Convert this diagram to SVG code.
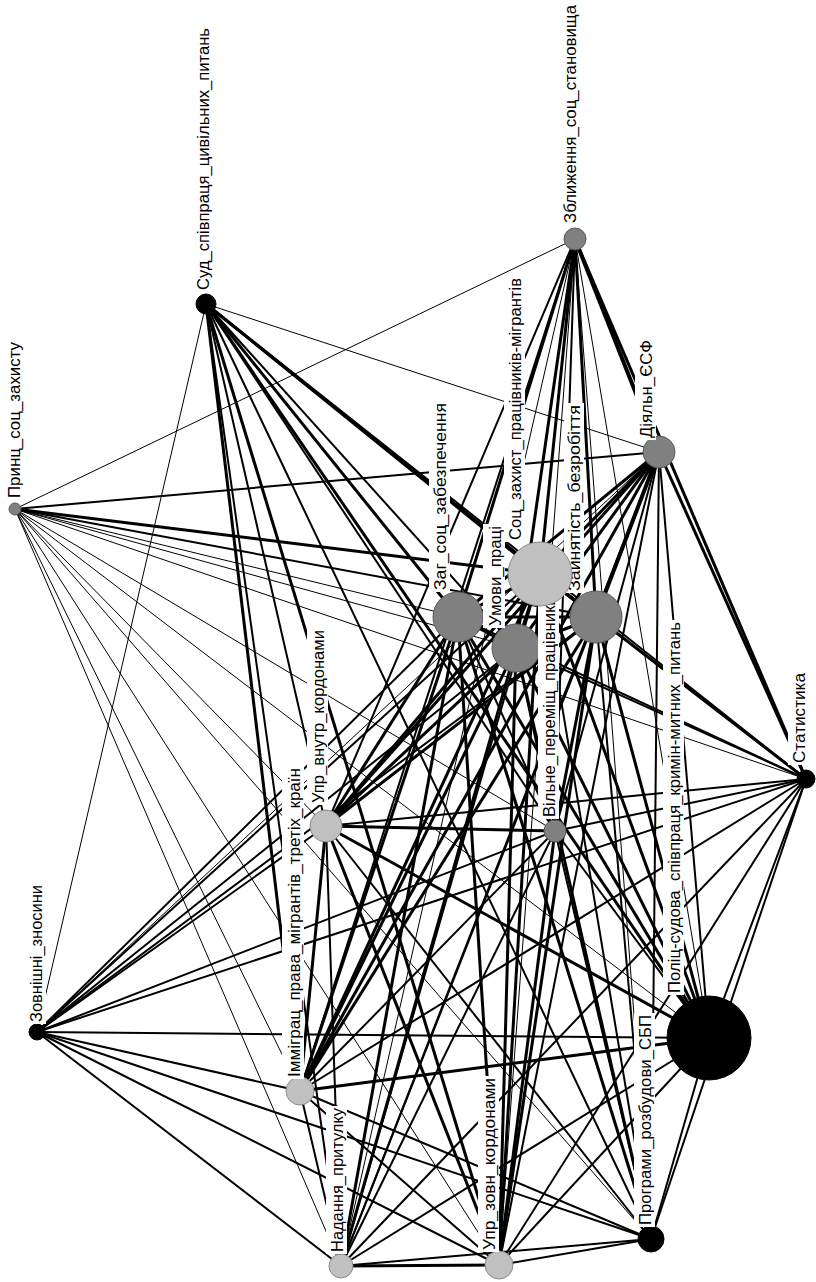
<svg xmlns="http://www.w3.org/2000/svg" width="816" height="1282" viewBox="0 0 816 1282">
<style>
.e line{stroke:#000;fill:none}
.w1{stroke-width:1}
.w2{stroke-width:2}
.w3{stroke-width:3}
.w4{stroke-width:4}
.blk{fill:#000;stroke:#000;stroke-width:1}
.gry{fill:#808080;stroke:#5a5a5a;stroke-width:1}
.lgt{fill:#c0c0c0;stroke:#8a8a8a;stroke-width:1}
.lb rect{fill:#fff}
.lb text{font-family:"Liberation Sans",Arial,sans-serif;font-size:16.5px;fill:#000}
</style>
<rect width="816" height="1282" fill="#fff"/>
<g id="connectors" class="e">
<line class="w1" x1="206" y1="304" x2="659" y2="452"/>
<line class="w1" x1="206" y1="304" x2="37" y2="1032"/>
<line class="w3" x1="206" y1="304" x2="458" y2="617"/>
<line class="w3" x1="206" y1="304" x2="540" y2="574"/>
<line class="w2" x1="206" y1="304" x2="516" y2="648"/>
<line class="w3" x1="206" y1="304" x2="596" y2="617"/>
<line class="w2" x1="206" y1="304" x2="555" y2="831"/>
<line class="w2" x1="206" y1="304" x2="806" y2="779"/>
<line class="w3" x1="206" y1="304" x2="709" y2="1038"/>
<line class="w2" x1="206" y1="304" x2="651" y2="1239"/>
<line class="w3" x1="206" y1="304" x2="499" y2="1265"/>
<line class="w2" x1="206" y1="304" x2="341" y2="1266"/>
<line class="w3" x1="206" y1="304" x2="300" y2="1091"/>
<line class="w2" x1="206" y1="304" x2="326" y2="826"/>
<line class="w1" x1="15" y1="509" x2="575" y2="239"/>
<line class="w2" x1="15" y1="509" x2="659" y2="452"/>
<line class="w1" x1="15" y1="509" x2="458" y2="617"/>
<line class="w3" x1="15" y1="509" x2="540" y2="574"/>
<line class="w1" x1="15" y1="509" x2="516" y2="648"/>
<line class="w2" x1="15" y1="509" x2="596" y2="617"/>
<line class="w1" x1="15" y1="509" x2="555" y2="831"/>
<line class="w1" x1="15" y1="509" x2="806" y2="779"/>
<line class="w1" x1="15" y1="509" x2="709" y2="1038"/>
<line class="w1" x1="15" y1="509" x2="651" y2="1239"/>
<line class="w1" x1="15" y1="509" x2="499" y2="1265"/>
<line class="w1" x1="15" y1="509" x2="341" y2="1266"/>
<line class="w1" x1="15" y1="509" x2="300" y2="1091"/>
<line class="w1" x1="15" y1="509" x2="326" y2="826"/>
<line class="w4" x1="575" y1="239" x2="659" y2="452"/>
<line class="w3" x1="575" y1="239" x2="458" y2="617"/>
<line class="w3" x1="575" y1="239" x2="540" y2="574"/>
<line class="w3" x1="575" y1="239" x2="516" y2="648"/>
<line class="w3" x1="575" y1="239" x2="596" y2="617"/>
<line class="w2" x1="575" y1="239" x2="555" y2="831"/>
<line class="w3" x1="575" y1="239" x2="806" y2="779"/>
<line class="w1" x1="575" y1="239" x2="709" y2="1038"/>
<line class="w1" x1="575" y1="239" x2="651" y2="1239"/>
<line class="w1" x1="575" y1="239" x2="499" y2="1265"/>
<line class="w1" x1="575" y1="239" x2="341" y2="1266"/>
<line class="w2" x1="575" y1="239" x2="300" y2="1091"/>
<line class="w2" x1="575" y1="239" x2="326" y2="826"/>
<line class="w3" x1="659" y1="452" x2="458" y2="617"/>
<line class="w3" x1="659" y1="452" x2="540" y2="574"/>
<line class="w3" x1="659" y1="452" x2="516" y2="648"/>
<line class="w4" x1="659" y1="452" x2="596" y2="617"/>
<line class="w2" x1="659" y1="452" x2="555" y2="831"/>
<line class="w3" x1="659" y1="452" x2="806" y2="779"/>
<line class="w2" x1="659" y1="452" x2="709" y2="1038"/>
<line class="w2" x1="659" y1="452" x2="651" y2="1239"/>
<line class="w2" x1="659" y1="452" x2="499" y2="1265"/>
<line class="w2" x1="659" y1="452" x2="341" y2="1266"/>
<line class="w3" x1="659" y1="452" x2="300" y2="1091"/>
<line class="w3" x1="659" y1="452" x2="326" y2="826"/>
<line class="w1" x1="659" y1="452" x2="37" y2="1032"/>
<line class="w3" x1="458" y1="617" x2="540" y2="574"/>
<line class="w3" x1="458" y1="617" x2="516" y2="648"/>
<line class="w3" x1="458" y1="617" x2="596" y2="617"/>
<line class="w2" x1="458" y1="617" x2="555" y2="831"/>
<line class="w2" x1="458" y1="617" x2="806" y2="779"/>
<line class="w3" x1="458" y1="617" x2="709" y2="1038"/>
<line class="w3" x1="458" y1="617" x2="651" y2="1239"/>
<line class="w3" x1="458" y1="617" x2="499" y2="1265"/>
<line class="w3" x1="458" y1="617" x2="341" y2="1266"/>
<line class="w3" x1="458" y1="617" x2="300" y2="1091"/>
<line class="w3" x1="458" y1="617" x2="326" y2="826"/>
<line class="w2" x1="458" y1="617" x2="37" y2="1032"/>
<line class="w3" x1="540" y1="574" x2="516" y2="648"/>
<line class="w3" x1="540" y1="574" x2="596" y2="617"/>
<line class="w3" x1="540" y1="574" x2="555" y2="831"/>
<line class="w2" x1="540" y1="574" x2="806" y2="779"/>
<line class="w3" x1="540" y1="574" x2="709" y2="1038"/>
<line class="w2" x1="540" y1="574" x2="651" y2="1239"/>
<line class="w3" x1="540" y1="574" x2="499" y2="1265"/>
<line class="w2" x1="540" y1="574" x2="341" y2="1266"/>
<line class="w3" x1="540" y1="574" x2="300" y2="1091"/>
<line class="w3" x1="540" y1="574" x2="326" y2="826"/>
<line class="w2" x1="540" y1="574" x2="37" y2="1032"/>
<line class="w3" x1="516" y1="648" x2="596" y2="617"/>
<line class="w2" x1="516" y1="648" x2="555" y2="831"/>
<line class="w2" x1="516" y1="648" x2="806" y2="779"/>
<line class="w3" x1="516" y1="648" x2="709" y2="1038"/>
<line class="w3" x1="516" y1="648" x2="651" y2="1239"/>
<line class="w3" x1="516" y1="648" x2="499" y2="1265"/>
<line class="w3" x1="516" y1="648" x2="341" y2="1266"/>
<line class="w3" x1="516" y1="648" x2="300" y2="1091"/>
<line class="w3" x1="516" y1="648" x2="326" y2="826"/>
<line class="w2" x1="516" y1="648" x2="37" y2="1032"/>
<line class="w3" x1="596" y1="617" x2="555" y2="831"/>
<line class="w3" x1="596" y1="617" x2="806" y2="779"/>
<line class="w3" x1="596" y1="617" x2="709" y2="1038"/>
<line class="w2" x1="596" y1="617" x2="651" y2="1239"/>
<line class="w3" x1="596" y1="617" x2="499" y2="1265"/>
<line class="w2" x1="596" y1="617" x2="341" y2="1266"/>
<line class="w3" x1="596" y1="617" x2="300" y2="1091"/>
<line class="w3" x1="596" y1="617" x2="326" y2="826"/>
<line class="w2" x1="596" y1="617" x2="37" y2="1032"/>
<line class="w2" x1="555" y1="831" x2="806" y2="779"/>
<line class="w2" x1="555" y1="831" x2="709" y2="1038"/>
<line class="w2" x1="555" y1="831" x2="651" y2="1239"/>
<line class="w3" x1="555" y1="831" x2="499" y2="1265"/>
<line class="w2" x1="555" y1="831" x2="341" y2="1266"/>
<line class="w2" x1="555" y1="831" x2="300" y2="1091"/>
<line class="w3" x1="555" y1="831" x2="326" y2="826"/>
<line class="w2" x1="555" y1="831" x2="37" y2="1032"/>
<line class="w2" x1="806" y1="779" x2="709" y2="1038"/>
<line class="w2" x1="806" y1="779" x2="651" y2="1239"/>
<line class="w2" x1="806" y1="779" x2="499" y2="1265"/>
<line class="w2" x1="806" y1="779" x2="341" y2="1266"/>
<line class="w2" x1="806" y1="779" x2="300" y2="1091"/>
<line class="w2" x1="806" y1="779" x2="326" y2="826"/>
<line class="w2" x1="806" y1="779" x2="37" y2="1032"/>
<line class="w2" x1="709" y1="1038" x2="651" y2="1239"/>
<line class="w2" x1="709" y1="1038" x2="499" y2="1265"/>
<line class="w2" x1="709" y1="1038" x2="341" y2="1266"/>
<line class="w3" x1="709" y1="1038" x2="300" y2="1091"/>
<line class="w3" x1="709" y1="1038" x2="326" y2="826"/>
<line class="w2" x1="709" y1="1038" x2="37" y2="1032"/>
<line class="w2" x1="651" y1="1239" x2="499" y2="1265"/>
<line class="w2" x1="651" y1="1239" x2="341" y2="1266"/>
<line class="w2" x1="651" y1="1239" x2="300" y2="1091"/>
<line class="w2" x1="651" y1="1239" x2="326" y2="826"/>
<line class="w2" x1="651" y1="1239" x2="37" y2="1032"/>
<line class="w3" x1="499" y1="1265" x2="341" y2="1266"/>
<line class="w2" x1="499" y1="1265" x2="300" y2="1091"/>
<line class="w3" x1="499" y1="1265" x2="326" y2="826"/>
<line class="w2" x1="499" y1="1265" x2="37" y2="1032"/>
<line class="w2" x1="341" y1="1266" x2="300" y2="1091"/>
<line class="w2" x1="341" y1="1266" x2="326" y2="826"/>
<line class="w2" x1="341" y1="1266" x2="37" y2="1032"/>
<line class="w3" x1="300" y1="1091" x2="326" y2="826"/>
<line class="w2" x1="300" y1="1091" x2="37" y2="1032"/>
<line class="w2" x1="326" y1="826" x2="37" y2="1032"/>
</g>
<g id="node-sud" class="lb">
<circle class="blk" cx="206" cy="304" r="10"/>
<g transform="translate(209,290) rotate(-90)"><rect x="-2" y="-17" width="266" height="21"/><text textLength="262" lengthAdjust="spacingAndGlyphs">Суд_співпраця_цивільних_питань</text></g>
</g>
<g id="node-prynts" class="lb">
<circle class="gry" cx="15" cy="509" r="6"/>
<g transform="translate(20,498) rotate(-90)"><rect x="-2" y="-17" width="160" height="21"/><text textLength="156" lengthAdjust="spacingAndGlyphs">Принц_соц_захисту</text></g>
</g>
<g id="node-zblyzhennia" class="lb">
<circle class="gry" cx="575" cy="239" r="11"/>
<g transform="translate(576,223) rotate(-90)"><rect x="-2" y="-17" width="222" height="21"/><text textLength="218" lengthAdjust="spacingAndGlyphs">Зближення_соц_становища</text></g>
</g>
<g id="node-diialn" class="lb">
<circle class="gry" cx="659" cy="452" r="16"/>
<g transform="translate(652,438) rotate(-90)"><rect x="-2" y="-17" width="102" height="21"/><text textLength="98" lengthAdjust="spacingAndGlyphs">Діяльн_ЄСФ</text></g>
</g>
<g id="node-zah" class="lb">
<circle class="gry" cx="458" cy="617" r="25"/>
<g transform="translate(446,590) rotate(-90)"><rect x="-2" y="-17" width="191" height="21"/><text textLength="187" lengthAdjust="spacingAndGlyphs">Заг_соц_забезпечення</text></g>
</g>
<g id="node-umovy" class="lb">
<circle class="gry" cx="516" cy="648" r="24"/>
<g transform="translate(501,626) rotate(-90)"><rect x="-2" y="-18" width="104" height="22"/><text textLength="100" lengthAdjust="spacingAndGlyphs">Умови_праці</text></g>
</g>
<g id="node-zainiatist" class="lb">
<circle class="gry" cx="596" cy="617" r="26"/>
<g transform="translate(580,591) rotate(-90)"><rect x="-2" y="-16" width="190" height="20"/><text textLength="186" lengthAdjust="spacingAndGlyphs">Зайнятість_безробіття</text></g>
</g>
<g id="node-vilne" class="lb">
<circle class="gry" cx="555" cy="831" r="11"/>
<g transform="translate(555,817) rotate(-90)"><rect x="-2" y="-17" width="228" height="21"/><text textLength="224" lengthAdjust="spacingAndGlyphs">Вільне_переміщ_працівників</text></g>
</g>
<g id="node-sotszakhyst" class="lb">
<circle class="lgt" cx="540" cy="574" r="32"/>
<g transform="translate(521,540) rotate(-90)"><rect x="-2" y="-17" width="266" height="21"/><text textLength="262" lengthAdjust="spacingAndGlyphs">Соц_захист_працівників-мігрантів</text></g>
</g>
<g id="node-statystyka" class="lb">
<circle class="blk" cx="806" cy="779" r="9"/>
<g transform="translate(805,763) rotate(-90)"><rect x="-2" y="-17" width="94" height="21"/><text textLength="90" lengthAdjust="spacingAndGlyphs">Статистика</text></g>
</g>
<g id="node-polits" class="lb">
<circle class="blk" cx="709" cy="1038" r="42"/>
<g transform="translate(680,993) rotate(-90)"><rect x="-2" y="-17" width="375" height="21"/><text textLength="371" lengthAdjust="spacingAndGlyphs">Поліц-судова_співпраця_кримін-митних_питань</text></g>
</g>
<g id="node-prohramy" class="lb">
<circle class="blk" cx="651" cy="1239" r="13"/>
<g transform="translate(651,1225) rotate(-90)"><rect x="-2" y="-17" width="214" height="21"/><text textLength="210" lengthAdjust="spacingAndGlyphs">Програми_розбудови_СБП</text></g>
</g>
<g id="node-uprzovn" class="lb">
<circle class="lgt" cx="499" cy="1265" r="14"/>
<g transform="translate(495,1250) rotate(-90)"><rect x="-2" y="-17" width="176" height="21"/><text textLength="172" lengthAdjust="spacingAndGlyphs">Упр_зовн_кордонами</text></g>
</g>
<g id="node-nadannia" class="lb">
<circle class="lgt" cx="341" cy="1266" r="12"/>
<g transform="translate(343,1252) rotate(-90)"><rect x="-2" y="-17" width="148" height="21"/><text textLength="144" lengthAdjust="spacingAndGlyphs">Надання_притулку</text></g>
</g>
<g id="node-immihrats" class="lb">
<circle class="lgt" cx="300" cy="1091" r="14"/>
<g transform="translate(300,1077) rotate(-90)"><rect x="-2" y="-18" width="313" height="22"/><text textLength="309" lengthAdjust="spacingAndGlyphs">Імміграц_права_мігрантів_третіх_країн</text></g>
</g>
<g id="node-uprvnutr" class="lb">
<circle class="lgt" cx="326" cy="826" r="16"/>
<g transform="translate(324,803) rotate(-90)"><rect x="-2" y="-17" width="177" height="21"/><text textLength="173" lengthAdjust="spacingAndGlyphs">Упр_внутр_кордонами</text></g>
</g>
<g id="node-zovnishni" class="lb">
<circle class="blk" cx="37" cy="1032" r="8"/>
<g transform="translate(42,1022) rotate(-90)"><rect x="-2" y="-17" width="141" height="21"/><text textLength="137" lengthAdjust="spacingAndGlyphs">Зовнішні_зносини</text></g>
</g>
</svg>
